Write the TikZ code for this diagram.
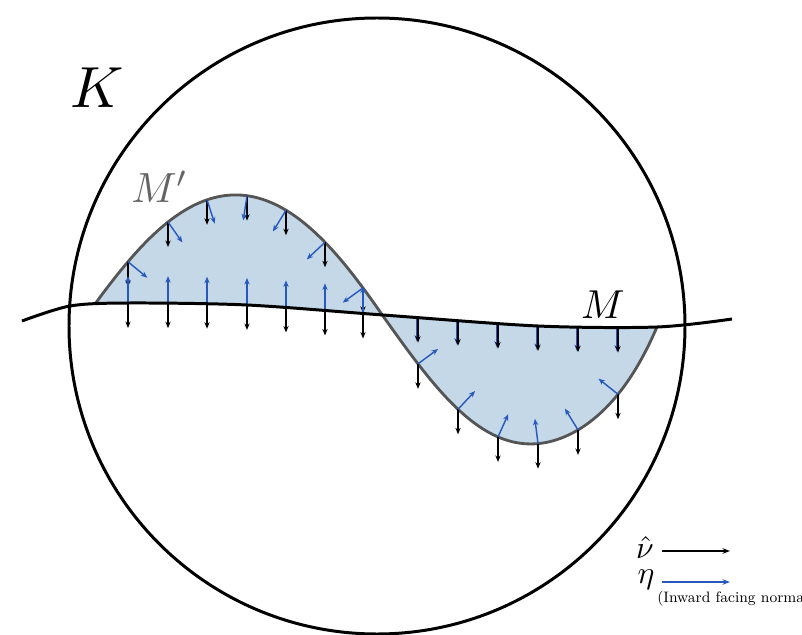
\documentclass[tikz,border=0pt]{standalone}
\usepackage{graphicx}
\usetikzlibrary{arrows.meta,calc,intersections}
\definecolor{lobefill}{RGB}{196,216,232}
\definecolor{normblue}{RGB}{38,88,190}
\definecolor{mgray}{RGB}{85,85,85}
\definecolor{lblgray}{RGB}{100,100,100}
\begin{document}
\begin{tikzpicture}[x=0.02cm,y=-0.02cm,
  nuarrow/.style={black,line width=0.8pt,-{Stealth[length=1.3mm,width=1.05mm]}},
  etaarrow/.style={normblue,line width=0.8pt,-{Stealth[length=1.3mm,width=1.05mm]}},
  legnu/.style={black,line width=0.9pt,-{Stealth[length=1.5mm,width=1.1mm]}},
  legeta/.style={normblue,line width=0.9pt,-{Stealth[length=1.5mm,width=1.1mm]}},
  mline/.style={black,line width=1.7pt},
  mpline/.style={mgray,line width=1.6pt},
  ball/.style={black,line width=1.7pt}]
\useasboundingbox (0,0) rectangle (802,635);
% M' as a list of sampled points (computed once)
\def\mplist{}
\foreach \i in {0,...,40}{
  \pgfmathsetmacro\s{\i/40}
  \pgfmathsetmacro\xa{95+288*\s}
  \pgfmathsetmacro\ya{304+12*\s-115*sin(180*\s)*(1.12-0.12*sin(180*\s))}
  \xdef\mplist{\mplist (\xa,\ya)}
}
\foreach \i in {1,...,40}{
  \pgfmathsetmacro\s{\i/40}
  \pgfmathsetmacro\xa{383+274*\s}
  \pgfmathsetmacro\ya{316+11*\s+119*sin(180*\s)*(1+0.73*\s*\s*\s*\s*\s)}
  \xdef\mplist{\mplist (\xa,\ya)}
}
% filled lobes
\begin{scope}
  \clip plot[smooth] coordinates {(22,321) (70,306) (128,303) (247,305) (383,315) (538,326) (657,327) (732,319)} -- (732,0) -- (22,0) -- cycle;
  \fill[lobefill] plot[smooth] coordinates {\mplist} -- (657,640) -- (95,640) -- cycle;
\end{scope}
\begin{scope}
  \clip plot[smooth] coordinates {(22,321) (70,306) (128,303) (247,305) (383,315) (538,326) (657,327) (732,319)} -- (732,640) -- (22,640) -- cycle;
  \fill[lobefill] plot[smooth] coordinates {\mplist} -- (657,0) -- (95,0) -- cycle;
\end{scope}
% M' curve
\draw[mpline, name path=Mprime] plot[smooth] coordinates {\mplist};
\path[name path=Mline] plot[smooth] coordinates {(22,321) (70,306) (128,303) (247,305) (383,315) (538,326) (657,327) (732,319)};
% normals on M'
\foreach \xx/\rot in {128/-90,168/-90,207/-90,247/-90,286/-90,325/-90,363/-90,418/90,458/90,498/90,538/90,578/90,618/90}{
  \path[name path=va] (\xx,0) -- (\xx,640);
  \path[name path=vb] (\xx+1,0) -- (\xx+1,640);
  \path[name intersections={of=Mprime and va,by=pa}];
  \path[name intersections={of=Mprime and vb,by=pb}];
  \coordinate (ta) at ($(pa)+(0,25)$);
  \coordinate (tb) at ($(pa)!0.5cm!\rot:(pb)$);
  \draw[nuarrow] (pa) -- (ta);
  \draw[etaarrow] (pa) -- (tb);
}
% normals on M, left lobe
\foreach \xx in {128,168,207,247,286,325,363}{
  \path[name path=vc] (\xx,0) -- (\xx,640);
  \path[name intersections={of=Mline and vc,by=pc}];
  \coordinate (tc) at ($(pc)+(0,25)$);
  \coordinate (td) at ($(pc)+(0,-27)$);
  \draw[nuarrow] (pc) -- (tc);
  \draw[etaarrow] (pc) -- (td);
}
% normals on M, right lobe
\foreach \xx in {418,458,498,538,578,618}{
  \path[name path=vc] (\xx,0) -- (\xx,640);
  \path[name intersections={of=Mline and vc,by=pc}];
  \coordinate (tc) at ($(pc)+(0,25)$);
  \coordinate (pe) at ($(pc)+(-1,0)$);
  \coordinate (te) at ($(pc)+(-1,24)$);
  \draw[etaarrow] (pe) -- (te);
  \draw[nuarrow] (pc) -- (tc);
}
% M line
\draw[mline] plot[smooth] coordinates {(22,321) (70,306) (128,303) (247,305) (383,315) (538,326) (657,327) (732,319)};
% ball K
\draw[ball] (377,326) circle[radius=308];
% labels
\node (Klbl) at (97,88) {\scalebox{3.3}{$K$}};
\node[anchor=base, text=lblgray] (Mplbl) at (160,203) {\scalebox{2.4}{$M'$}};
\node[anchor=base] (Mlbl) at (603,318) {\scalebox{2.3}{$M$}};
% legend
\node[anchor=base] (nulbl) at (645,558) {\scalebox{1.8}{$\hat{\nu}$}};
\node[anchor=base] (etalbl) at (646,583) {\scalebox{1.8}{$\eta$}};
\node[anchor=base west, inner sep=0pt] (inward) at (657,602) {\fontsize{8.6}{10}\selectfont (Inward facing normal)};
\coordinate (nua) at (662,551);
\coordinate (nub) at (730,551);
\coordinate (etaa) at (662,582);
\coordinate (etab) at (730,582);
\draw[legnu] (nua) -- (nub);
\draw[legeta] (etaa) -- (etab);
\end{tikzpicture}
\end{document}
